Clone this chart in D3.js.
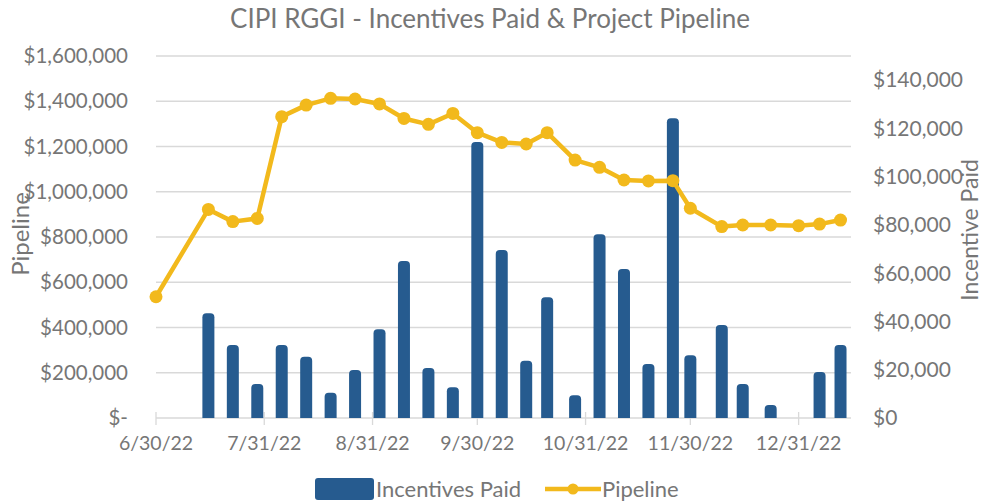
<!DOCTYPE html>
<html>
<head>
<meta charset="utf-8">
<script src="https://cdn.jsdelivr.net/npm/d3@7"></script>
<style>
  body { margin: 0; background: #fff; }
  svg { display: block; font-family: Lato, "Open Sans", sans-serif; }
</style>
</head>
<body>
<div id="chart"></div>
<script>
// Weekly reporting dates (m/d/yy)
const dates = ["6/30/22", "7/15/22", "7/22/22", "7/29/22", "8/5/22", "8/12/22", "8/19/22", "8/26/22",
    "9/2/22", "9/9/22", "9/16/22", "9/23/22", "9/30/22", "10/7/22", "10/14/22", "10/20/22", "10/28/22",
    "11/4/22", "11/11/22", "11/18/22", "11/25/22", "11/30/22", "12/9/22", "12/15/22", "12/23/22",
    "12/31/22", "1/6/23", "1/12/23"];

// Project pipeline (left axis)
const pipeline = [536000, 922000, 868000, 882000, 1332000, 1383000, 1413000, 1410000,
    1388000, 1324000, 1298000, 1346000, 1261000, 1218000, 1211000, 1261000, 1140000,
    1108000, 1052000, 1048000, 1049000, 927000, 846000, 853000, 853000,
    850000, 857000, 875000];

// Incentives paid (right axis), null = nothing paid that week
const incentives = [null, 43400, 30250, 14100, 30250, 25400, 10500, 19900,
    36750, 65050, 20700, 12700, 114400, 69600, 23750, 50000, 9400,
    76100, 61750, 22400, 124200, 26000, 38550, 14100, 5400,
    null, 19050, 30250];

// Axis ticks
const xTicks = ["6/30/22", "7/31/22", "8/31/22", "9/30/22", "10/31/22", "11/30/22", "12/31/22"];
const leftTicks = [0, 200000, 400000, 600000, 800000, 1000000, 1200000, 1400000, 1600000];
const rightTicks = [0, 20000, 40000, 60000, 80000, 100000, 120000, 140000];

const width = 984, height = 502;
const plot = { left: 156, right: 851, top: 56, bottom: 418 };
const textColor = "#767676";
const gridColor = "#d9d9d9";
const barColor = "#265b8f";
const lineColor = "#f2b91c";

const parse = d3.utcParse("%m/%d/%y");
const rows = dates.map((d, i) => ({ date: parse(d), pipeline: pipeline[i], paid: incentives[i] }));

const svg = d3.select("#chart")
    .append("svg")
    .attr("width", width)
    .attr("height", height);

const x = d3.scaleUtc()
    .domain([parse("6/30/22"), parse("1/15/23")])
    .range([plot.left, plot.right]);

const yLeft = d3.scaleLinear().domain([0, 1600000]).range([plot.bottom, plot.top]);
const yRight = d3.scaleLinear().domain([0, 150000]).range([plot.bottom, plot.top]);

// Gridlines
svg.append("g")
    .selectAll("line")
    .data(leftTicks)
    .enter().append("line")
    .attr("x1", plot.left)
    .attr("x2", plot.right)
    .attr("y1", d => yLeft(d))
    .attr("y2", d => yLeft(d))
    .attr("stroke", gridColor)
    .attr("stroke-width", 1.3);

// Month tick marks crossing the base line
svg.append("g")
    .selectAll("line")
    .data(xTicks)
    .enter().append("line")
    .attr("x1", d => x(parse(d)))
    .attr("x2", d => x(parse(d)))
    .attr("y1", plot.bottom - 6)
    .attr("y2", plot.bottom + 7)
    .attr("stroke", gridColor)
    .attr("stroke-width", 1.3);

// Left axis labels
const fmt = d3.format("$,");
svg.append("g")
    .selectAll("text")
    .data(leftTicks)
    .enter().append("text")
    .attr("x", 128)
    .attr("y", d => yLeft(d))
    .attr("dy", "0.35em")
    .attr("text-anchor", "end")
    .attr("font-size", 20.5)
    .attr("fill", textColor)
    .text(d => d === 0 ? "$-" : fmt(d));

// Right axis labels
svg.append("g")
    .selectAll("text")
    .data(rightTicks)
    .enter().append("text")
    .attr("x", 873)
    .attr("y", d => yRight(d))
    .attr("dy", "0.35em")
    .attr("font-size", 21)
    .attr("fill", textColor)
    .text(d => fmt(d));

// Date labels
svg.append("g")
    .selectAll("text")
    .data(xTicks)
    .enter().append("text")
    .attr("x", d => x(parse(d)))
    .attr("y", 443)
    .attr("dy", "0.35em")
    .attr("text-anchor", "middle")
    .attr("font-size", 19.5)
    .attr("fill", textColor)
    .text(d => d);

// Bars with rounded tops
const barW = 12, r = 4;
function barPath(cx, yTop, yBase) {
    const x0 = cx - barW / 2, x1 = cx + barW / 2;
    const rr = Math.min(r, (yBase - yTop) / 2);
    return `M${x0},${yBase}V${yTop + rr}Q${x0},${yTop} ${x0 + rr},${yTop}` +
        `H${x1 - rr}Q${x1},${yTop} ${x1},${yTop + rr}V${yBase}Z`;
}

svg.append("g")
    .selectAll("path")
    .data(rows.filter(d => d.paid != null))
    .enter().append("path")
    .attr("d", d => barPath(x(d.date), yRight(d.paid), yRight(0)))
    .attr("fill", barColor);

// Pipeline line and markers
const line = d3.line()
    .x(d => x(d.date))
    .y(d => yLeft(d.pipeline));

svg.append("path")
    .datum(rows)
    .attr("d", line)
    .attr("fill", "none")
    .attr("stroke", lineColor)
    .attr("stroke-width", 4.5)
    .attr("stroke-linejoin", "round");

svg.append("g")
    .selectAll("circle")
    .data(rows)
    .enter().append("circle")
    .attr("cx", d => x(d.date))
    .attr("cy", d => yLeft(d.pipeline))
    .attr("r", 6.5)
    .attr("fill", lineColor);

// Title
svg.append("text")
    .attr("x", 490)
    .attr("y", 19)
    .attr("dy", "0.35em")
    .attr("text-anchor", "middle")
    .attr("font-size", 26)
    .attr("fill", textColor)
    .text("CIPI RGGI - Incentives Paid & Project Pipeline");

// Axis titles
svg.append("text")
    .attr("transform", "translate(21,234) rotate(-90)")
    .attr("dy", "0.35em")
    .attr("text-anchor", "middle")
    .attr("font-size", 24)
    .attr("fill", textColor)
    .text("Pipeline");

svg.append("text")
    .attr("transform", "translate(970,230) rotate(-90)")
    .attr("dy", "0.35em")
    .attr("text-anchor", "middle")
    .attr("font-size", 23)
    .attr("fill", textColor)
    .text("Incentive Paid");

// Legend
const legend = svg.append("g");
legend.append("rect")
    .attr("x", 315)
    .attr("y", 478)
    .attr("width", 59)
    .attr("height", 22)
    .attr("rx", 3)
    .attr("fill", barColor);
legend.append("text")
    .attr("x", 376)
    .attr("y", 489)
    .attr("dy", "0.35em")
    .attr("font-size", 22)
    .attr("fill", textColor)
    .text("Incentives Paid");
legend.append("line")
    .attr("x1", 545)
    .attr("x2", 601)
    .attr("y1", 489)
    .attr("y2", 489)
    .attr("stroke", lineColor)
    .attr("stroke-width", 4.5);
legend.append("circle")
    .attr("cx", 573)
    .attr("cy", 489)
    .attr("r", 5.5)
    .attr("fill", lineColor);
legend.append("text")
    .attr("x", 602)
    .attr("y", 489)
    .attr("dy", "0.35em")
    .attr("font-size", 22)
    .attr("fill", textColor)
    .text("Pipeline");
</script>
</body>
</html>
